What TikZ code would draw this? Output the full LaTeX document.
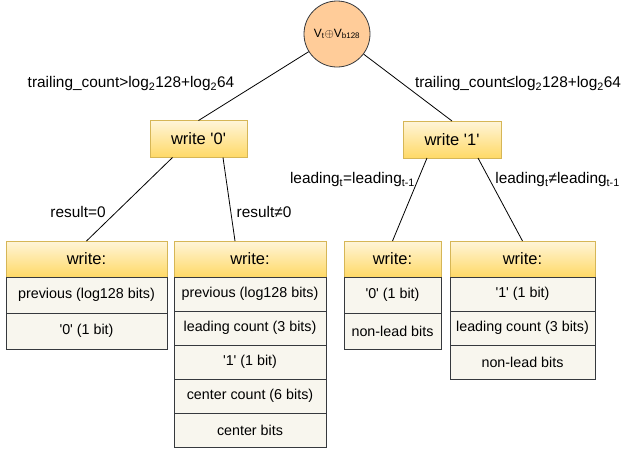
\documentclass[tikz,border=0pt]{standalone}
\usepackage{fontspec}
\setmainfont{Liberation Sans}
\usetikzlibrary{positioning}
\definecolor{peach}{HTML}{FFCC99}
\definecolor{hdrtop}{HTML}{FFF5D9}
\definecolor{hdrbot}{HTML}{FFD966}
\definecolor{hdrline}{HTML}{D6B656}
\definecolor{cellfill}{HTML}{F8F6EE}
\definecolor{cellline}{HTML}{36393D}
\newcommand{\sq}{\textquotesingle}
\tikzset{hdr/.style={shape=rectangle, draw=hdrline, top color=hdrtop,
    bottom color=hdrbot, minimum height=36, inner sep=0pt, outer sep=0pt,
    font=\fontsize{16.5}{18}\selectfont}}
\tikzset{cell/.style={shape=rectangle, draw=cellline, fill=cellfill,
    inner sep=0pt, outer sep=0pt, font=\fontsize{14.3}{16}\selectfont}}
\tikzset{cond/.style={inner sep=0pt, font=\fontsize{15.4}{17}\selectfont}}

\begin{document}
\begin{tikzpicture}[x=1pt, y=-1pt, line width=.8pt]
    \useasboundingbox (0,0) rectangle (626,448);
    % root
    \node[shape=circle, draw=cellline, fill=peach, minimum size=66,
    inner sep=0pt] (xor) at (337,34)
    {\fontsize{12}{14}\selectfont V\textsubscript{t}$\oplus$V\textsubscript{b128}};
    \node[hdr, minimum width=97, minimum height=37] (w0) at (198.5,139) {write \sq0\sq};
    \node[hdr, minimum width=98, minimum height=37] (w1) at (452,139.5) {write \sq1\sq};
    \path[draw] (xor) edge (w0.north);
    \path[draw] (xor) edge (w1.north);
    \node[cond] (c0) at (131,84) {trailing\_count>log\textsubscript{2}128+log\textsubscript{2}64};
    \node[cond] (c1) at (518,84) {trailing\_count≤log\textsubscript{2}128+log\textsubscript{2}64};
    % left table
    \node[hdr, minimum width=161] (t1) at (86.5,259) {write:};
    \node[cell, minimum width=161, minimum height=36, below=0pt of t1] (t1a) {previous (log128 bits)};
    \node[cell, minimum width=161, minimum height=36, below=0pt of t1a] (t1b) {\sq0\sq{} (1 bit)};
    % second table
    \node[hdr, minimum width=152] (t2) at (250,259) {write:};
    \node[cell, minimum width=152, minimum height=34, below=0pt of t2] (t2a) {previous (log128 bits)};
    \node[cell, minimum width=152, minimum height=34, below=0pt of t2a] (t2b) {leading count (3 bits)};
    \node[cell, minimum width=152, minimum height=34, below=0pt of t2b] (t2c) {\sq1\sq{} (1 bit)};
    \node[cell, minimum width=152, minimum height=34, below=0pt of t2c] (t2d) {center count (6 bits)};
    \node[cell, minimum width=152, minimum height=34, below=0pt of t2d] (t2e) {center bits};
    % third table
    \node[hdr, minimum width=97] (t3) at (392.5,259) {write:};
    \node[cell, minimum width=97, minimum height=36, below=0pt of t3] (t3a) {\sq0\sq{} (1 bit)};
    \node[cell, minimum width=97, minimum height=36, below=0pt of t3a] (t3b) {non-lead bits};
    % right table
    \node[hdr, minimum width=145] (t4) at (522.5,259) {write:};
    \node[cell, minimum width=145, minimum height=34, below=0pt of t4] (t4a) {\sq1\sq{} (1 bit)};
    \node[cell, minimum width=145, minimum height=34, below=0pt of t4a] (t4b) {leading count (3 bits)};
    \node[cell, minimum width=145, minimum height=34, below=0pt of t4b] (t4c) {non-lead bits};
    \path[draw] ([xshift=-26]w0.south) edge (t1.north);
    \path[draw] ([xshift=24.5]w0.south) edge ([xshift=-15]t2.north);
    \path[draw] ([xshift=-25]w1.south) edge (t3.north);
    \path[draw] ([xshift=26]w1.south) edge (t4.north);
    \node[cond] (r0) at (78,212) {result=0};
    \node[cond] (r1) at (264,212) {result≠0};
    \node[cond] (l0) at (352.5,180) {leading\textsubscript{t}=leading\textsubscript{t-1}};
    \node[cond, anchor=west] (l1) at (495,180) {leading\textsubscript{t}≠leading\textsubscript{t-1}};
  \end{tikzpicture}
\end{document}
